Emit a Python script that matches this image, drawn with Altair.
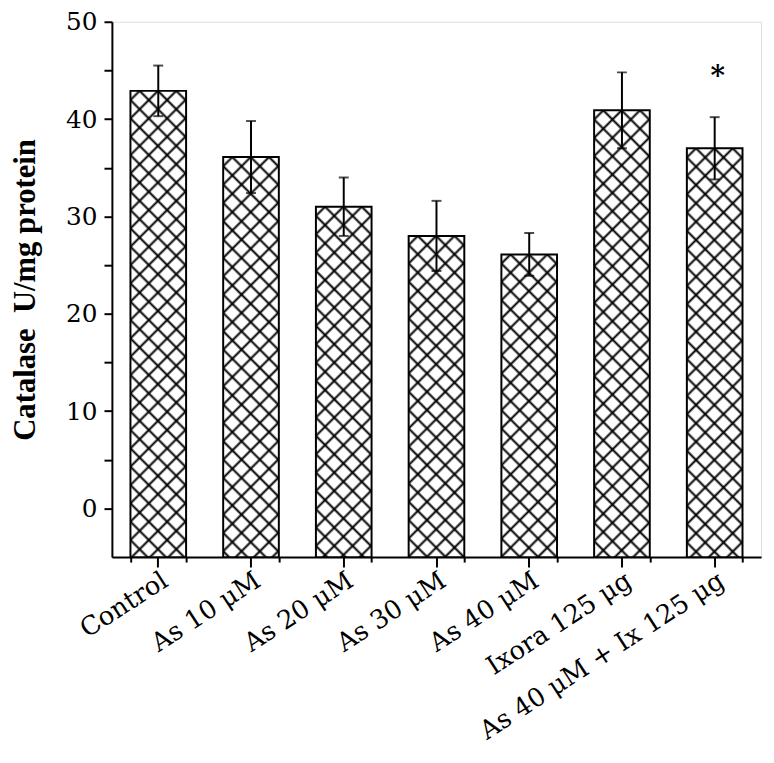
import altair as alt
import pandas as pd
from urllib.parse import quote

# ---- data ----
categories = ["Control", "As 10 μM", "As 20 μM", "As 30 μM", "As 40 μM",
              "Ixora 125 μg", "As 40 μM + Ix 125 μg"]
means = [42.9, 36.1, 31.0, 28.0, 26.1, 40.9, 37.0]
errors = [2.6, 3.7, 3.0, 3.6, 2.2, 3.9, 3.2]
stars = ["", "", "", "", "", "", "*"]
y_ticks = [0, 5, 10, 15, 20, 25, 30, 35, 40, 45, 50]
Y_MIN, Y_MAX = -5, 50

df = pd.DataFrame({"group": categories, "mean": means, "err": errors, "star": stars})
df["lo"] = df["mean"] - df["err"]
df["hi"] = df["mean"] + df["err"]
df["base"] = Y_MIN

# cross-hatch pattern as an SVG image (drawn at pixel scale inside each bar)
S = 13.1
hatch_svg = (
    "<svg xmlns='http://www.w3.org/2000/svg' width='100%' height='100%'>"
    "<defs><pattern id='h' width='{s}' height='{s}' patternUnits='userSpaceOnUse' "
    "patternTransform='rotate(45)'>"
    "<path d='M0 {h}H{s}M{h} 0V{s}' stroke='black' stroke-width='2' fill='none'/>"
    "</pattern></defs>"
    "<rect width='100%' height='100%' fill='white'/>"
    "<rect width='100%' height='100%' fill='url(#h)'/></svg>"
).format(s=S, h=S / 2)
hatch_url = "data:image/svg+xml;charset=utf-8," + quote(hatch_svg)

FONT = "DejaVu Serif"

x_scale = alt.Scale(paddingInner=0.4, paddingOuter=0.2)
y_scale = alt.Scale(domain=[Y_MIN, Y_MAX], nice=False, zero=False)

x_main_axis = alt.Axis(
    title=None, orient="bottom", labelAngle=-33, labelAlign="right", labelBaseline="top",
    labelFont=FONT, labelFontSize=26, labelColor="black", labelPadding=0,
    tickSize=10, tickWidth=2, tickColor="black", domainWidth=2, domainColor="black",
    labelLimit=400, labelOverlap=False,
)
x_minor_axis = alt.Axis(
    title=None, orient="bottom", labels=False, tickBand="extent", tickSize=5,
    tickWidth=2, tickColor="black", domain=False,
)
y_axis = alt.Axis(
    title="Catalase\u00a0 U/mg protein", values=y_ticks,
    labelExpr="datum.value % 10 == 0 ? datum.label : ''",
    labelFont=FONT, labelFontSize=25, labelColor="black", labelPadding=7,
    tickSize=8, tickWidth=2, tickColor="black", domainWidth=2, domainColor="black",
    titleFont="Liberation Serif", titleFontSize=31, titleFontWeight="bold",
    titleColor="black", titlePadding=24, grid=False,
)

base = alt.Chart(df)
x_plain = alt.X("group:N", sort=categories, axis=None)

hatch = base.mark_image(aspect=False).encode(
    x=alt.X("group:N", sort=categories, scale=x_scale, axis=x_main_axis),
    y=alt.Y("mean:Q", scale=y_scale, axis=y_axis),
    y2="base:Q",
    url=alt.value(hatch_url),
)

bars = base.mark_bar(fill="transparent", stroke="black", strokeWidth=2).encode(
    x=alt.X("group:N", sort=categories, scale=x_scale, axis=x_minor_axis),
    y=alt.Y("mean:Q", scale=y_scale),
    y2="base:Q",
)

err_rule = base.mark_rule(color="black", strokeWidth=2).encode(
    x=x_plain, y="lo:Q", y2="hi:Q",
)
cap_hi = base.mark_tick(color="black", size=10, thickness=2).encode(
    x=x_plain, y="hi:Q"
)
cap_lo = base.mark_tick(color="black", size=10, thickness=2).encode(
    x=x_plain, y="lo:Q"
)
star = base.mark_text(font="DejaVu Serif", fontSize=28, fontWeight="bold",
                      color="black", baseline="alphabetic", dx=3, dy=-32).encode(
    x=x_plain, y="hi:Q", text="star:N"
)

chart = alt.layer(hatch, bars, err_rule, cap_hi, cap_lo, star).resolve_axis(
    x="independent"
).properties(
    width=656, height=541,
    autosize=alt.AutoSizeParams(type="none"),
    padding={"left": 105, "top": 10, "right": 5, "bottom": 190},
).configure_view(stroke=None).configure(background="white")

chart.save("out.html", embed_options={"renderer": "svg", "actions": False})
